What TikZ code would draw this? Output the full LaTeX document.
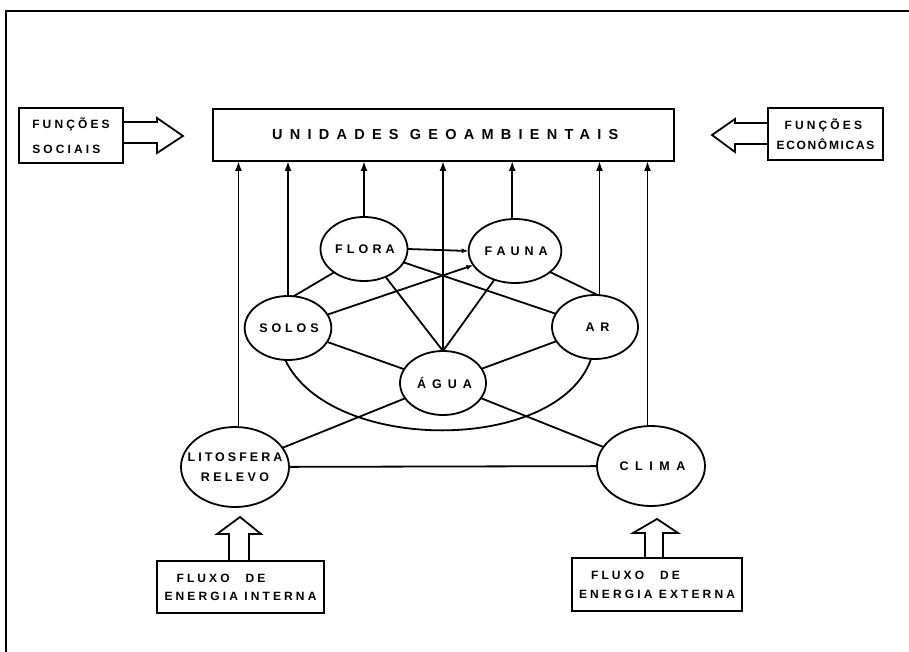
\documentclass[tikz,border=0pt]{standalone}
\usepackage{fontspec}
\setmainfont{Liberation Sans}
\usetikzlibrary{arrows.meta,shapes.geometric}
\newcommand{\lsp}[1]{\addfontfeature{LetterSpace=#1}}
\begin{document}
\begin{tikzpicture}[x=1pt,y=-1pt,
  every node/.style={inner sep=0pt,outer sep=0pt},
  ln/.style={line width=1.8pt},
  elem/.style={draw,ellipse,line width=1.8pt,minimum width=86pt,minimum height=64pt,
    font=\fontsize{12.5}{20}\selectfont\bfseries},
  bigelem/.style={elem,minimum width=108pt,minimum height=80pt},
  boxl/.style={draw,line width=1.8pt,align=left},
  bfont/.style={font=\fontsize{12}{#1}\selectfont\bfseries\addfontfeature{LetterSpace=26}},
  up/.style={ln,-{Latex[length=10pt,width=7pt]}},
  sm/.style={ln,-{Latex[length=7pt,width=5pt]}},
  blk/.style={line width=1.8pt,line join=miter}
]
\useasboundingbox (0,0) rectangle (909,652);
% frame
\draw[line width=2pt] (6,652) -- (6,11) -- (909,11);

% main box
\node[draw,line width=1.8pt,minimum width=461pt,minimum height=52pt,
  font=\fontsize{14.5}{16}\selectfont\bfseries\addfontfeature{LetterSpace=50}]
  (unid) at (443.5,135) {\hspace*{3.5pt}UNIDADES GEOAMBIENTAIS};

% side boxes
\node[boxl,bfont=25,minimum width=104pt,minimum height=55pt] (soc) at (71,135.5)
  {FUNÇÕES\\SOCIAIS};
\node[boxl,bfont=20,minimum width=115pt,minimum height=52pt] (eco) at (825.5,134)
  {\hspace*{8pt}FUNÇÕES\\{\lsp{14}ECONÔMICAS}};
\node[boxl,bfont=18,minimum width=167pt,minimum height=52pt] (fint) at (240.5,587)
  {\hspace*{12pt}FLUXO\hspace{16pt}DE\\ENERGIA INTERNA};
\node[boxl,bfont=19,minimum width=170pt,minimum height=53pt] (fext) at (657,584.5)
  {\hspace*{12pt}FLUXO\hspace{16pt}DE\\ENERGIA EXTERNA};

% block arrows
\draw[blk] (123,122) -- (157,122) -- (157,118) -- (183,136) -- (157,153) -- (157,143) -- (123,143);
\draw[blk] (768,123) -- (735,123) -- (735,119) -- (712,135) -- (735,152) -- (735,144) -- (768,144);
\draw[blk] (229,561) -- (229,534) -- (217,534) -- (240,517) -- (261,534) -- (249,534) -- (249,561);
\draw[blk] (645,558) -- (645,533) -- (633,533) -- (657,519) -- (678,533) -- (663,533) -- (663,558);

% elements
\node[elem] (flora) at (364,249) {\hspace*{2pt}\lsp{33}FLORA};
\node[elem] (fauna) at (515,251) {\hspace*{2.5pt}\lsp{40}FAUNA};
\node[elem] (solos) at (288,328) {\hspace*{2pt}\lsp{31}SOLOS};
\node[elem] (ar) at (595,327) {\hspace*{5pt}\lsp{44}AR};
\node[elem] (agua) at (443,383) {\hspace*{3pt}\lsp{48}ÁGUA};
\node[bigelem,align=center] (lito) at (235,467)
  {\makebox[60pt]{\lsp{24}LITOSFERA}\\{\lsp{27}RELEVO}};
\node[bigelem] (clima) at (651,466) {\hspace*{3pt}\lsp{52}CLIMA};

% vertical arrows to main box
\draw[up] (lito.85) -- (lito.85 |- unid.south);
\draw[up] (solos.north) -- (solos.north |- unid.south);
\draw[up] (flora.north) -- (flora.north |- unid.south);
\draw[up] (agua.north) -- (agua.north |- unid.south);
\draw[up] (fauna.95) -- (fauna.95 |- unid.south);
\draw[up] (ar.82) -- (ar.82 |- unid.south);
\draw[up] (clima.95) -- (clima.95 |- unid.south);

% links
\draw[sm] (flora.east) -- (fauna.west);
\draw[sm] (solos) -- (fauna);
\draw[ln] (flora.218) -- (solos.80);
\draw[ln] (flora) -- (ar);
\draw[ln] (flora) -- (agua.north);
\draw[ln] (fauna) -- (agua.north);
\draw[ln] (fauna.-31) -- (ar.85);
\draw[ln] (solos) -- (agua);
\draw[ln] (ar) -- (agua);
\draw[ln] (agua) -- (lito);
\draw[ln] (agua) -- (clima);
\draw[ln] (solos.-95) .. controls (330,454) and (558,454) .. (ar.-97);
\draw[ln] (lito) -- (clima);
\end{tikzpicture}
\end{document}
